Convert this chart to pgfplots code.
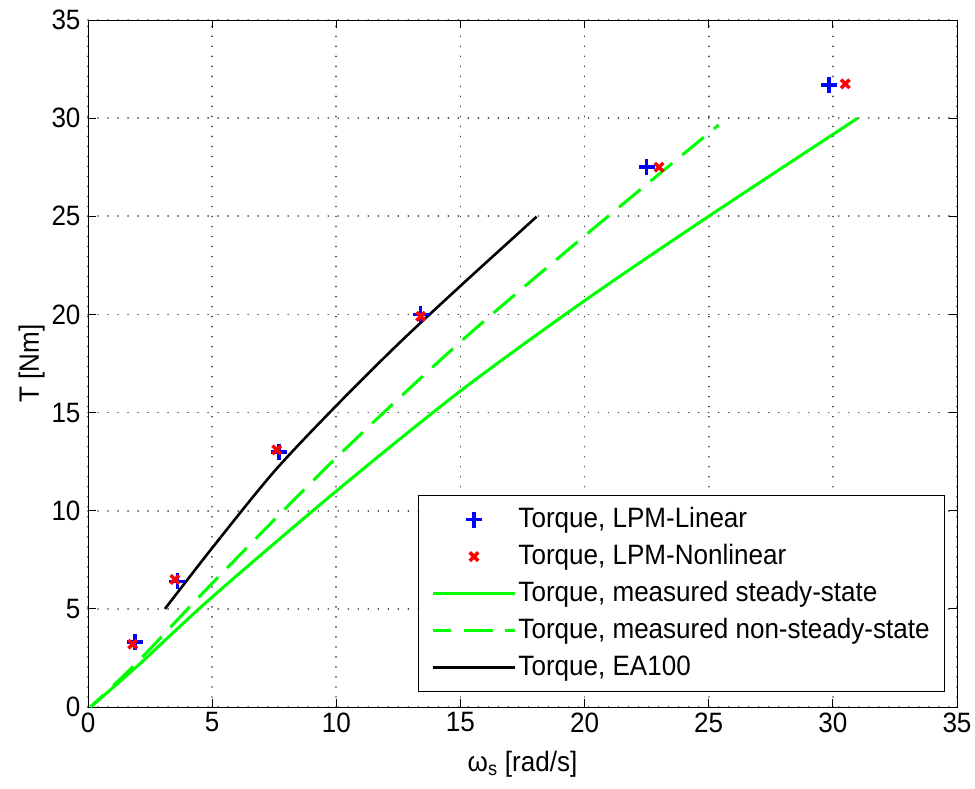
\documentclass[border=0pt]{standalone}
\usepackage{pgfplots}
\pgfplotsset{compat=1.18}
\usepackage{fontspec}
\setmainfont{Liberation Sans}[FakeStretch=0.93]
\definecolor{mgreen}{RGB}{0,255,0}
\pgfplotsset{
  linelegend/.style={legend image code/.code={\draw[##1] plot coordinates {(0pt,0pt) (41pt,0pt) (82pt,0pt)};}},
  marklegend/.style={legend image code/.code={\draw[mark repeat=2,mark phase=2,##1] plot coordinates {(0pt,0pt) (41pt,0pt) (82pt,0pt)};}},
}
\begin{document}
\begin{tikzpicture}[x=1pt,y=1pt]
\path[use as bounding box] (-88,-81) rectangle (887,707);
\begin{axis}[
  at={(0,0)}, anchor=south west,
  scale only axis, width=869pt, height=687pt,
  xmin=0, xmax=35, ymin=0, ymax=35,
  xtick={0,5,...,35}, ytick={0,5,...,35},
  tick align=inside, major tick length=8pt,
  tick style={black, line width=0.8pt},
  axis line style={black, line width=0.9pt},
  grid=major, major grid style={black!75, line width=1.8pt, dash pattern=on 0.01pt off 10pt, line cap=round},
  /pgf/number format/assume math mode=true,
  tick label style={font=\fontsize{28}{30}\selectfont},
  yticklabel style={xshift=-4pt},
  xticklabel style={yshift=-2pt},
  label style={font=\fontsize{28}{30}\selectfont},
  xlabel={ω\textsubscript{s} [rad/s]},
  ylabel={T [Nm]},
  xlabel style={yshift=-12pt},
  ylabel style={yshift=0pt},
  legend cell align=left,
  legend style={at={(rel axis cs:0.9862,0.0218)}, anchor=south east,
    draw=black, line width=0.9pt, font=\fontsize{28}{30}\selectfont,
    inner xsep=13pt, inner ysep=8pt, row sep=5pt,
    nodes={inner sep=2pt, text height=22pt, text depth=6pt}},
  linelegend,
]
\addplot[only marks, blue, mark=+, mark size=8pt, mark options={line width=3.5pt}, marklegend]
  coordinates {(1.9,3.3) (3.6,6.4) (7.7,13.0) (13.4,20.0) (22.5,27.5) (29.85,31.7)};
\addlegendentry{Torque, LPM-Linear}
\addplot[only marks, red, mark=x, mark size=6pt, mark options={line width=3.5pt}, marklegend]
  coordinates {(1.8,3.2) (3.5,6.5) (7.6,13.1) (13.4,19.9) (23.0,27.5) (30.5,31.75)};
\addlegendentry{Torque, LPM-Nonlinear}
\addplot[mgreen, line width=3pt, smooth]
  coordinates {(0.1,0) (2,2.1) (5,5.6) (10,11.0) (15,16.1) (20,20.7) (25,25.0) (31,30.0)};
\addlegendentry{Torque, measured steady-state}
\addplot[mgreen, line width=3pt, smooth, dash pattern=on 28pt off 13pt, dash phase=10pt]
  coordinates {(0.1,0) (2,2.3) (5,6.3) (10,12.7) (15,18.6) (20,24.0) (25.4,29.65)};
\addlegendentry{Torque, measured non-steady-state}
\addplot[black, line width=2.6pt, smooth]
  coordinates {(3.1,5.0) (5,8.1) (7.5,12.0) (10,15.35) (12.5,18.5) (15,21.45) (18.07,24.98)};
\addlegendentry{Torque, EA100}
\end{axis}
\end{tikzpicture}
\end{document}
